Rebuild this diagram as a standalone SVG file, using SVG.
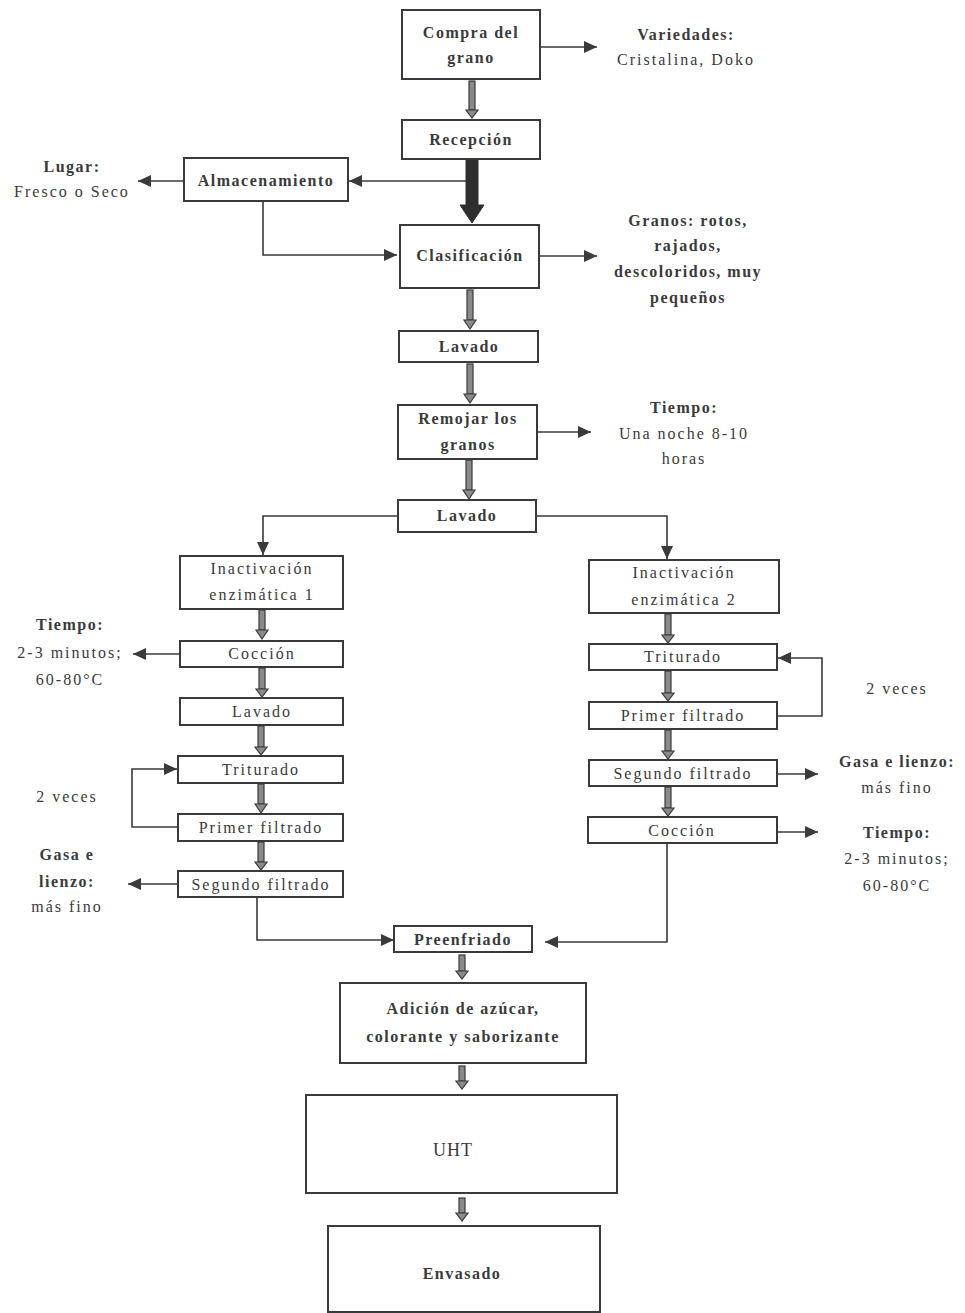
<svg xmlns="http://www.w3.org/2000/svg" width="965" height="1313" viewBox="0 0 965 1313">
<style>
.box{fill:#fff;stroke:#3a3a3a;stroke-width:2}
.t{font-family:"Liberation Serif",serif;font-size:16px;font-weight:bold;fill:#3a3a3a;text-anchor:middle;letter-spacing:1.5px}
.n{font-family:"Liberation Serif",serif;font-size:16px;fill:#3a3a3a;text-anchor:middle;letter-spacing:2px}
.c{fill:none;stroke:#3a3a3a;stroke-width:1.6}
.dbl{fill:#8a8a8a;stroke:#3a3a3a;stroke-width:1.2}
</style>
<defs>
<marker id="ah" markerUnits="userSpaceOnUse" markerWidth="14" markerHeight="12" refX="13" refY="6" orient="auto">
<path d="M0,0 L13,6 L0,12 z" fill="#3a3a3a"/>
</marker>
</defs>
<rect width="965" height="1313" fill="#fff"/>

<g id="connectors">
<!-- side arrows -->
<line class="c" x1="540" y1="47" x2="597" y2="47" marker-end="url(#ah)"/>
<line class="c" x1="470" y1="181" x2="349" y2="181" marker-end="url(#ah)"/>
<line class="c" x1="184" y1="181" x2="138" y2="181" marker-end="url(#ah)"/>
<polyline class="c" points="263,201 263,255 397,255" marker-end="url(#ah)"/>
<line class="c" x1="539" y1="256" x2="597" y2="256" marker-end="url(#ah)"/>
<line class="c" x1="537" y1="432" x2="591" y2="432" marker-end="url(#ah)"/>
<polyline class="c" points="398,516 263,516 263,555" marker-end="url(#ah)"/>
<polyline class="c" points="536,516 667,516 667,559" marker-end="url(#ah)"/>
<line class="c" x1="180" y1="654" x2="133" y2="654" marker-end="url(#ah)"/>
<polyline class="c" points="178,827 132,827 132,769 177,769" marker-end="url(#ah)"/>
<line class="c" x1="178" y1="884" x2="128" y2="884" marker-end="url(#ah)"/>
<polyline class="c" points="257,897 257,940 394,940" marker-end="url(#ah)"/>
<polyline class="c" points="777,716 822,716 822,658 778,658" marker-end="url(#ah)"/>
<line class="c" x1="777" y1="774" x2="818" y2="774" marker-end="url(#ah)"/>
<line class="c" x1="777" y1="832" x2="818" y2="832" marker-end="url(#ah)"/>
<polyline class="c" points="667,843 667,942 545,942" marker-end="url(#ah)"/>
<!-- thick arrow Recepcion -> Clasificacion -->
<path d="M466,160 L478,160 L478,205 L484,205 L472,223 L460,205 L466,205 z" fill="#2e2e2e" stroke="#2e2e2e" stroke-width="1"/>
<!-- double (hollow) arrows -->
<g>
<rect class="dbl" x="469" y="81" width="6" height="29"/><path class="dbl" d="M466,110 L478,110 L472,118 z"/>
<rect class="dbl" x="467" y="290" width="6" height="30"/><path class="dbl" d="M464,320 L476,320 L470,329 z"/>
<rect class="dbl" x="467" y="364" width="6" height="30"/><path class="dbl" d="M464,394 L476,394 L470,403 z"/>
<rect class="dbl" x="466" y="460" width="6" height="30"/><path class="dbl" d="M463,490 L475,490 L469,499 z"/>
<rect class="dbl" x="259" y="610" width="6" height="20"/><path class="dbl" d="M256,630 L268,630 L262,639 z"/>
<rect class="dbl" x="259" y="668" width="6" height="21"/><path class="dbl" d="M256,689 L268,689 L262,697 z"/>
<rect class="dbl" x="258" y="726" width="6" height="21"/><path class="dbl" d="M255,747 L267,747 L261,755 z"/>
<rect class="dbl" x="258" y="784" width="6" height="20"/><path class="dbl" d="M255,804 L267,804 L261,813 z"/>
<rect class="dbl" x="258" y="842" width="6" height="20"/><path class="dbl" d="M255,862 L267,862 L261,870 z"/>
<rect class="dbl" x="665" y="614" width="6" height="21"/><path class="dbl" d="M662,635 L674,635 L668,643 z"/>
<rect class="dbl" x="665" y="671" width="6" height="22"/><path class="dbl" d="M662,693 L674,693 L668,701 z"/>
<rect class="dbl" x="665" y="730" width="6" height="21"/><path class="dbl" d="M662,751 L674,751 L668,759 z"/>
<rect class="dbl" x="665" y="787" width="6" height="21"/><path class="dbl" d="M662,808 L674,808 L668,816 z"/>
<rect class="dbl" x="459" y="955" width="6" height="16"/><path class="dbl" d="M456,971 L468,971 L462,979 z"/>
<rect class="dbl" x="459" y="1066" width="6" height="15"/><path class="dbl" d="M456,1081 L468,1081 L462,1089 z"/>
<rect class="dbl" x="459" y="1198" width="6" height="15"/><path class="dbl" d="M456,1213 L468,1213 L462,1221 z"/>
</g>
</g>

<g id="compra"><rect class="box" x="402" y="10" width="138" height="69"/><text class="t" x="471" y="38">Compra del</text><text class="t" x="471" y="63">grano</text></g>
<g id="variedades"><text class="t" x="686" y="40">Variedades:</text><text class="n" x="686" y="65">Cristalina, Doko</text></g>
<g id="recepcion"><rect class="box" x="402" y="120" width="138" height="39"/><text class="t" x="471" y="145">Recepción</text></g>
<g id="almacenamiento"><rect class="box" x="184" y="158" width="164" height="43"/><text class="t" x="266" y="186">Almacenamiento</text></g>
<g id="lugar"><text class="t" x="72" y="172">Lugar:</text><text class="n" x="72" y="197">Fresco o Seco</text></g>
<g id="clasificacion"><rect class="box" x="400" y="225" width="139" height="63"/><text class="t" x="470" y="261">Clasificación</text></g>
<g id="granos"><text class="t" x="688" y="226">Granos: rotos,</text><text class="t" x="688" y="251">rajados,</text><text class="t" x="688" y="277">descoloridos, muy</text><text class="t" x="688" y="303">pequeños</text></g>
<g id="lavado1"><rect class="box" x="399" y="331" width="139" height="31"/><text class="t" x="469" y="352">Lavado</text></g>
<g id="remojar"><rect class="box" x="398" y="405" width="139" height="54"/><text class="t" x="468" y="424">Remojar los</text><text class="t" x="468" y="450">granos</text></g>
<g id="tiempo1"><text class="t" x="684" y="413">Tiempo:</text><text class="n" x="684" y="439">Una noche 8-10</text><text class="n" x="684" y="464">horas</text></g>
<g id="lavado2"><rect class="box" x="398" y="500" width="138" height="32"/><text class="t" x="467" y="521">Lavado</text></g>

<g id="inact1"><rect class="box" x="180" y="556" width="163" height="53"/><text class="n" x="262" y="574">Inactivación</text><text class="n" x="262" y="600">enzimática 1</text></g>
<g id="coccion1"><rect class="box" x="180" y="641" width="163" height="26"/><text class="n" x="262" y="659">Cocción</text></g>
<g id="tiempo2"><text class="t" x="70" y="630">Tiempo:</text><text class="n" x="70" y="658">2-3 minutos;</text><text class="n" x="70" y="685">60-80°C</text></g>
<g id="lavado3"><rect class="box" x="180" y="698" width="163" height="27"/><text class="n" x="262" y="717">Lavado</text></g>
<g id="triturado1"><rect class="box" x="178" y="756" width="165" height="27"/><text class="n" x="261" y="775">Triturado</text></g>
<g id="primer1"><rect class="box" x="178" y="814" width="165" height="27"/><text class="n" x="261" y="833">Primer filtrado</text></g>
<g id="veces1"><text class="n" x="67" y="802">2 veces</text></g>
<g id="segundo1"><rect class="box" x="178" y="871" width="165" height="26"/><text class="n" x="261" y="890">Segundo filtrado</text></g>
<g id="gasa1"><text class="t" x="67" y="860">Gasa e</text><text class="t" x="67" y="887">lienzo:</text><text class="n" x="67" y="912">más fino</text></g>

<g id="inact2"><rect class="box" x="589" y="560" width="190" height="53"/><text class="n" x="684" y="578">Inactivación</text><text class="n" x="684" y="605">enzimática 2</text></g>
<g id="triturado2"><rect class="box" x="589" y="644" width="188" height="26"/><text class="n" x="683" y="662">Triturado</text></g>
<g id="primer2"><rect class="box" x="589" y="702" width="188" height="27"/><text class="n" x="683" y="721">Primer filtrado</text></g>
<g id="veces2"><text class="n" x="897" y="694">2 veces</text></g>
<g id="segundo2"><rect class="box" x="589" y="760" width="188" height="26"/><text class="n" x="683" y="779">Segundo filtrado</text></g>
<g id="gasa2"><text class="t" x="897" y="767">Gasa e lienzo:</text><text class="n" x="897" y="793">más fino</text></g>
<g id="coccion2"><rect class="box" x="588" y="817" width="189" height="26"/><text class="n" x="682" y="836">Cocción</text></g>
<g id="tiempo3"><text class="t" x="897" y="838">Tiempo:</text><text class="n" x="897" y="864">2-3 minutos;</text><text class="n" x="897" y="891">60-80°C</text></g>

<g id="preenfriado"><rect class="box" x="394" y="926" width="138" height="26"/><text class="t" x="463" y="945">Preenfriado</text></g>
<g id="adicion"><rect class="box" x="340" y="983" width="246" height="80"/><text class="t" x="463" y="1014">Adición de azúcar,</text><text class="t" x="463" y="1042">colorante y saborizante</text></g>
<g id="uht"><rect class="box" x="306" y="1095" width="311" height="98"/><text class="n" x="453" y="1156" style="font-size:18px;letter-spacing:1px">UHT</text></g>
<g id="envasado"><rect class="box" x="328" y="1226" width="272" height="86"/><text class="t" x="462" y="1279">Envasado</text></g>
</svg>
